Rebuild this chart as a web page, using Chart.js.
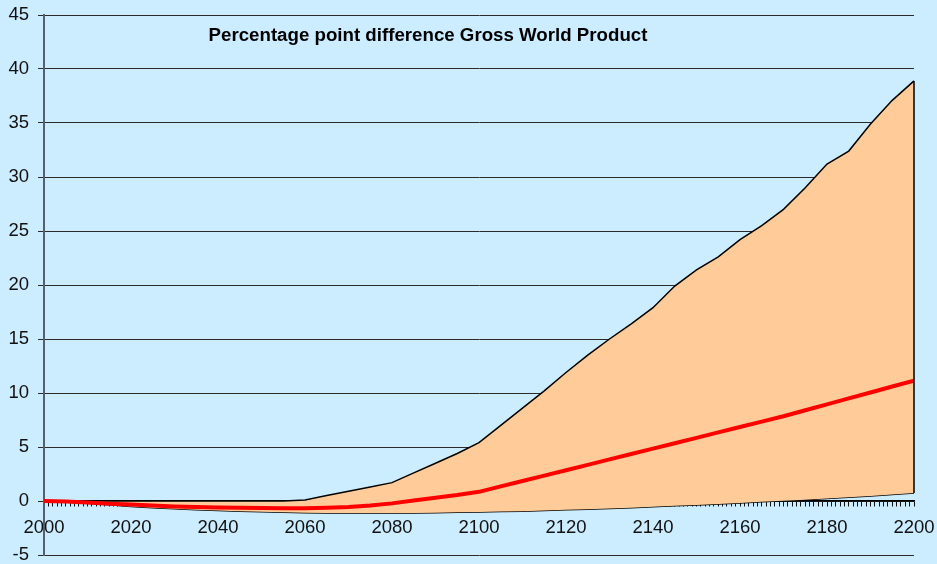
<!DOCTYPE html>
<html>
<head>
<meta charset="utf-8">
<script src="https://cdn.jsdelivr.net/npm/chart.js@4/dist/chart.umd.min.js"></script>
<style>
  html, body { margin: 0; padding: 0; background: #CCECFF; }
  #wrap { width: 937px; height: 564px; }
</style>
</head>
<body>
<div id="wrap"><canvas id="chart" width="937" height="564"></canvas></div>
<script>
// years sampled every 5 years
const years = [];
for (let y = 2000; y <= 2200; y += 5) years.push(y);

const lowerBound = [
  0, -0.1, -0.2, -0.35, -0.5, -0.62, -0.72, -0.8, -0.88, -0.95,
  -1.0, -1.05, -1.08, -1.1, -1.12, -1.12, -1.12, -1.1, -1.08, -1.05,
  -1.02, -0.98, -0.94, -0.88, -0.82, -0.76, -0.7, -0.62, -0.54, -0.45,
  -0.36, -0.27, -0.18, -0.08, 0.02, 0.12, 0.24, 0.35, 0.47, 0.6, 0.74
];
const upperBound = [
  0, 0, 0, 0, 0, 0, 0, 0, 0, 0,
  0, 0, 0.1, 0.5, 0.9, 1.3, 1.7, 2.6, 3.5, 4.4,
  5.4, 7.0, 8.6, 10.2, 11.9, 13.5, 15.0, 16.4, 17.9, 19.9,
  21.4, 22.6, 24.2, 25.5, 27.0, 29.0, 31.2, 32.4, 34.9, 37.1, 38.9
];
const centralCase = [
  0, -0.05, -0.15, -0.25, -0.33, -0.42, -0.5, -0.55, -0.6, -0.63,
  -0.65, -0.67, -0.66, -0.62, -0.55, -0.42, -0.22, 0.05, 0.3, 0.55,
  0.85, 1.35, 1.85, 2.35, 2.85, 3.35, 3.85, 4.35, 4.85, 5.35,
  5.85, 6.35, 6.85, 7.35, 7.85, 8.4, 8.95, 9.5, 10.05, 10.6, 11.15
];
const yTicks = [-5, 0, 5, 10, 15, 20, 25, 30, 35, 40, 45];
const chartTitle = "Percentage point difference Gross World Product";

const toPoints = (arr) => arr.map((v, i) => ({ x: years[i], y: v }));

// labels may hang outside the plot, like the original
const noLabelPadding = (s) => {
  s.paddingTop = 0;
  s.paddingBottom = 0;
  s.paddingLeft = 0;
  s.paddingRight = 0;
};

const titleInside = {
  id: "titleInside",
  afterDraw(chart) {
    const ctx = chart.ctx;
    ctx.save();
    ctx.font = "bold 18.7px 'Liberation Sans', Arial, sans-serif";
    ctx.fillStyle = "#000";
    ctx.textAlign = "center";
    ctx.textBaseline = "middle";
    ctx.fillText(chartTitle, 428, 36);
    ctx.restore();
  }
};

// closing edge of the band at the last year
const bandEdge = {
  id: "bandEdge",
  afterDatasetsDraw(chart) {
    const { x, y } = chart.scales;
    const last = years.length - 1;
    const px = x.getPixelForValue(years[last]);
    const ctx = chart.ctx;
    ctx.save();
    ctx.strokeStyle = "#000";
    ctx.lineWidth = 1.5;
    ctx.beginPath();
    ctx.moveTo(px, y.getPixelForValue(lowerBound[last]));
    ctx.lineTo(px, y.getPixelForValue(upperBound[last]));
    ctx.stroke();
    ctx.restore();
  }
};

new Chart(document.getElementById("chart"), {
  type: "line",
  data: {
    datasets: [
      {
        label: "Lower",
        data: toPoints(lowerBound),
        borderColor: "#000",
        borderWidth: 1.5,
        pointRadius: 0,
        fill: false,
        tension: 0,
        order: 2,
      },
      {
        label: "Upper",
        data: toPoints(upperBound),
        borderColor: "#000",
        borderWidth: 1.5,
        backgroundColor: "#FFCC99",
        pointRadius: 0,
        fill: "-1",
        tension: 0,
        order: 1,
      },
      {
        label: "Central",
        data: toPoints(centralCase),
        borderColor: "#FF0000",
        borderWidth: 4,
        pointRadius: 0,
        fill: false,
        tension: 0,
        order: 0,
      },
    ],
  },
  options: {
    responsive: false,
    animation: false,
    events: [],
    layout: { padding: { top: 15, right: 23, bottom: 9, left: 0 } },
    plugins: {
      legend: { display: false },
      tooltip: { enabled: false },
    },
    scales: {
      x: {
        type: "linear",
        min: 2000,
        max: 2200,
        position: { y: 0 },
        z: 1,
        afterFit: (s) => { s.height = 0; noLabelPadding(s); },
        grid: {
          drawOnChartArea: false,
          drawTicks: true,
          tickLength: 5,
          color: "#111",
        },
        border: { color: "#000", width: 1.5 },
        ticks: {
          stepSize: 1,
          autoSkip: false,
          maxRotation: 0,
          padding: 11,
          color: "#111",
          font: { family: "'Liberation Sans', Arial, sans-serif", size: 18.5 },
          callback: (v) => (v % 20 === 0 ? String(v) : ""),
        },
      },
      y: {
        min: -5,
        max: 45,
        afterFit: (s) => { s.width = 44; noLabelPadding(s); },
        afterBuildTicks: (s) => { s.ticks = yTicks.map((v) => ({ value: v })); },
        grid: { color: "#2b2b2b", lineWidth: 1, tickLength: 6 },
        border: { color: "#55606c", width: 2 },
        ticks: {
          padding: 9,
          color: "#111",
          font: { family: "'Liberation Sans', Arial, sans-serif", size: 18.5 },
        },
      },
    },
  },
  plugins: [titleInside, bandEdge],
});
</script>
</body>
</html>
